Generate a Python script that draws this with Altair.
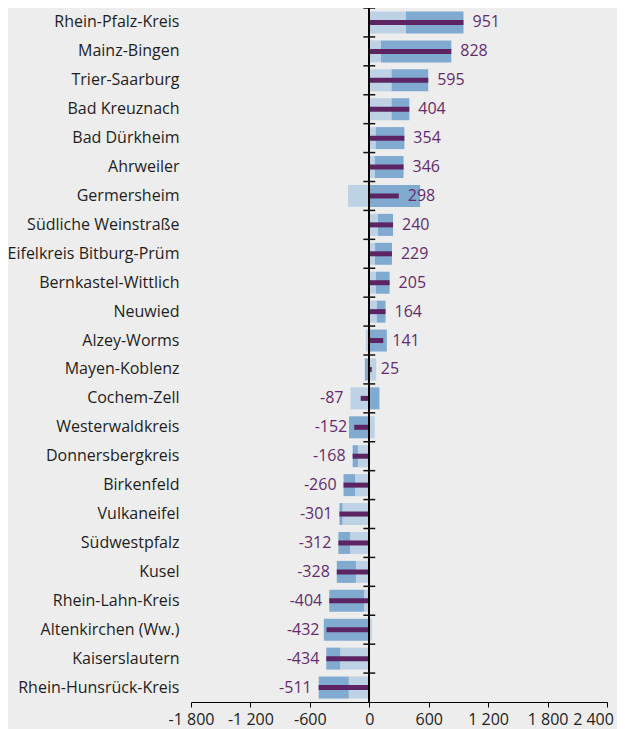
import altair as alt
import pandas as pd

districts = [
    "Rhein-Pfalz-Kreis", "Mainz-Bingen", "Trier-Saarburg", "Bad Kreuznach",
    "Bad Dürkheim", "Ahrweiler", "Germersheim", "Südliche Weinstraße",
    "Eifelkreis Bitburg-Prüm", "Bernkastel-Wittlich", "Neuwied", "Alzey-Worms",
    "Mayen-Koblenz", "Cochem-Zell", "Westerwaldkreis", "Donnersbergkreis",
    "Birkenfeld", "Vulkaneifel", "Südwestpfalz", "Kusel", "Rhein-Lahn-Kreis",
    "Altenkirchen (Ww.)", "Kaiserslautern", "Rhein-Hunsrück-Kreis",
]
net_values = [951, 828, 595, 404, 354, 346, 298, 240, 229, 205, 164, 141,
              25, -87, -152, -168, -260, -301, -312, -328, -404, -432, -434, -511]
light_values = [370, 118, 225, 225, 65, 55, -215, 88, 58, 67, 76, -36,
                70, -190, 55, -115, -143, -270, -193, -135, -52, 27, -294, -207]
medium_values = [581, 710, 370, 179, 289, 291, 513, 152, 171, 138, 88, 177,
                 -45, 103, -205, -53, -117, -31, -119, -193, -352, -459, -140, -304]
x_ticks = [-1800, -1200, -600, 0, 600, 1200, 1800, 2400]

FONT = "Open Sans"
W, H = 416, 694
STEP = H / len(districts)

net_df = pd.DataFrame({"district": districts, "net": net_values,
                       "light": light_values, "medium": medium_values})
comp_df = pd.concat([
    pd.DataFrame({"district": districts, "component": "light", "value": light_values, "ord": 0}),
    pd.DataFrame({"district": districts, "component": "medium", "value": medium_values, "ord": 1}),
])

x_scale = alt.Scale(domain=[-1800, 2400], nice=False, zero=False)
x_axis = alt.Axis(
    values=x_ticks, title=None, grid=False, domainColor="#000", tickColor="#000",
    tickSize=5, labelPadding=4, labelFont=FONT, labelFontSize=16, labelColor="#222",
    labelFlush=False,
    labelOffset={"condition": {"test": "datum.value == 2400", "value": -14}, "value": 0},
    labelExpr="(datum.value < 0 ? '-' : '') + replace(format(abs(datum.value), ','), ',', ' ')",
)
y_enc = alt.Y(
    "district:N", sort=districts, title=None,
    scale=alt.Scale(paddingInner=0, paddingOuter=0),
    axis=alt.Axis(domain=False, ticks=False, tickSize=0, labelPadding=12,
                  labelFont=FONT, labelFontSize=16, labelColor="#1e1e1e", labelLimit=400),
)

bars = alt.Chart(comp_df).mark_bar(size=22).encode(
    x=alt.X("value:Q", scale=x_scale, axis=x_axis, stack="zero"),
    y=y_enc,
    color=alt.Color("component:N", legend=None,
                    scale=alt.Scale(domain=["light", "medium"], range=["#bed2e6", "#80aad0"])),
    order=alt.Order("ord:Q", sort="ascending"),
)

net_bars = alt.Chart(net_df).mark_bar(size=5, color="#5c2462").encode(
    x=alt.X("net:Q", scale=x_scale, axis=x_axis),
    y=y_enc,
)

zero_line = alt.Chart(net_df).mark_rule(color="#000", strokeWidth=1.3).encode(
    x=alt.datum(0, scale=x_scale, axis=x_axis),
)

row_ticks = alt.Chart(net_df).mark_rule(color="#111", strokeWidth=1.5, yOffset=-STEP / 2).encode(
    y=y_enc,
    x=alt.datum(-60, scale=x_scale, axis=x_axis),
    x2=alt.datum(60),
)

labels_base = alt.Chart(net_df).transform_calculate(
    anchor="datum.net < 0 ? min(datum.net, datum.light) : datum.net",
    txt="(datum.net < 0 ? '-' : '') + abs(datum.net)",
)
pos_labels = labels_base.transform_filter("datum.net >= 0").mark_text(
    align="left", baseline="middle", dx=9, font=FONT, fontSize=16, color="#642c6c"
).encode(
    x=alt.X("anchor:Q", scale=x_scale, axis=x_axis),
    y=y_enc,
    text="txt:N",
)
neg_labels = labels_base.transform_filter("datum.net < 0").mark_text(
    align="right", baseline="middle", dx=-7, font=FONT, fontSize=16, color="#642c6c"
).encode(
    x=alt.X("anchor:Q", scale=x_scale, axis=x_axis),
    y=y_enc,
    text="txt:N",
)

chart = alt.layer(bars, net_bars, zero_line, row_ticks, pos_labels, neg_labels).properties(
    width=W, height=H,
    autosize=alt.AutoSizeParams(type="none"),
    padding={"left": 183, "top": 0, "right": 10, "bottom": 27},
    background="#ededed",
).configure_view(stroke=None)

chart.save("out.html", embed_options={"renderer": "svg", "actions": False})
